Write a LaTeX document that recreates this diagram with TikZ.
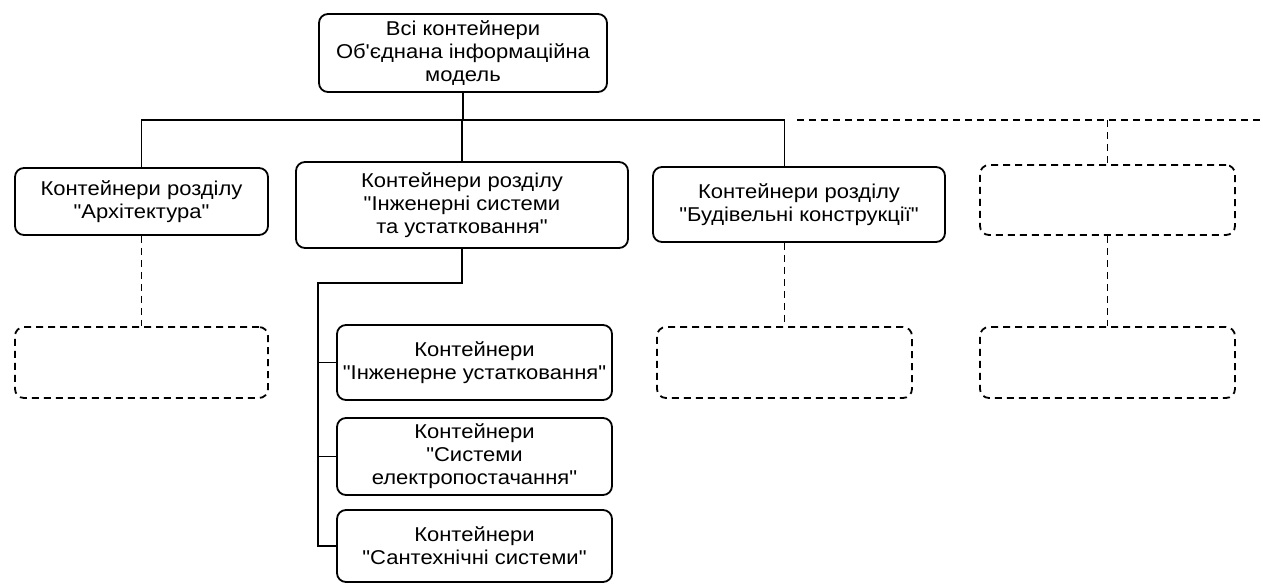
\documentclass[tikz,border=0pt]{standalone}
\usepackage{fontspec}
\setmainfont{Liberation Sans}[FakeStretch=1.1, Ligatures=TeXOff]
\usetikzlibrary{calc}

\begin{document}
\begin{tikzpicture}[x=1pt, y=-1pt,
		box/.style={draw, rounded corners=9pt, line width=1.8pt, align=center, inner sep=0pt, font=\fontsize{20}{23}\selectfont},
		ghost/.style={draw, dash pattern=on 7pt off 5pt, rounded corners=9pt, line width=1.8pt, inner sep=0pt},
		link/.style={line width=1.6pt},
		ghostlink/.style={line width=1.8pt, dash pattern=on 7pt off 5pt}]
			\def\bw{255};
			\def\bh{71};

			\useasboundingbox (0,0) rectangle (1263,585);

			% top of the tree
			\node[box, minimum width=288, minimum height=78] (all) at (463,53) {Всі контейнери\\Об'єднана інформаційна\\модель};

			% sections
			\node[box, minimum width=253, minimum height=67] (arch) at (141.5,201.5) {Контейнери розділу\\"Архітектура"};
			\node[box, minimum width=332, minimum height=86] (eng) at (462,205) {Контейнери розділу\\"Інженерні системи\\та устатковання"};
			\node[box, minimum width=292, minimum height=75] (bud) at (799,204.5) {Контейнери розділу\\"Будівельні конструкції"};
			\node[ghost, minimum width=\bw, minimum height=70] (more) at (1107.5,200) {};

			% next level, not filled in
			\node[ghost, minimum width=253, minimum height=\bh] (archsub) at (141.5,362.5) {};
			\node[ghost, minimum width=\bw, minimum height=\bh] (budsub) at (784.5,362.5) {};
			\node[ghost, minimum width=\bw, minimum height=\bh] (moresub) at (1107.5,362.5) {};

			% engineering containers
			\node[box, minimum width=275, minimum height=75] (equip) at (474.5,362.5) {Контейнери\\"Інженерне устатковання"};
			\node[box, minimum width=275, minimum height=77] (power) at (474.5,456.5) {Контейнери\\"Системи\\електропостачання"};
			\node[box, minimum width=275, minimum height=72] (water) at (474.5,546) {Контейнери\\"Сантехнічні системи"};

			\coordinate (bus) at (462,120);
			\coordinate (busgap) at (797,120);
			\coordinate (busend) at (1263,120);
			\coordinate (spine) at (318,283);

			\begin{scope}[link]
				\draw (all.south) -- (all.south |- bus);
				\draw (arch.north) |- (bus) -| (budsub.north |- bud.north);
				\draw (eng.north) -- (bus);
				\draw (eng.south) -- (eng.south |- spine) -- (spine) -- (spine |- water.west) -- (water.west);
				\draw (spine |- equip.west) -- (equip.west);
				\draw (spine |- power.west) -- (power.west);
			\end{scope}

			\begin{scope}[ghostlink]
				\draw (busgap) -- (busend);
				\draw (more.north |- busend) -- (more.north);
				\draw (arch.south) -- (archsub.north);
				\draw (budsub.north |- bud.south) -- (budsub.north);
				\draw (more.south) -- (moresub.north);
			\end{scope}
\end{tikzpicture}
\end{document}
